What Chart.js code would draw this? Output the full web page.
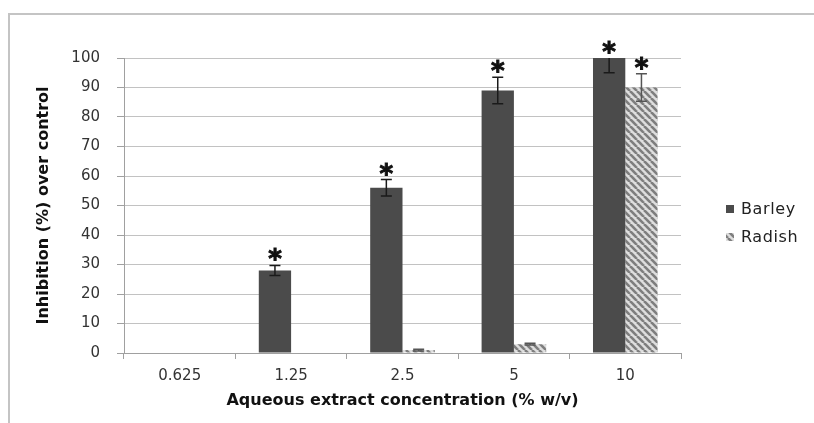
<!DOCTYPE html>
<html>
<head>
<meta charset="utf-8">
<script src="https://cdn.jsdelivr.net/npm/chart.js@4.4.0/dist/chart.umd.min.js"></script>
<style>
  html, body { margin: 0; padding: 0; background: #ffffff; overflow: hidden; width: 814px; height: 423px; }
  #frame { position: absolute; left: 8px; top: 13px; width: 820px; height: 420px;
           border-left: 2px solid #c4c4c4; border-top: 2px solid #c4c4c4; }
  #c { position: absolute; left: 0; top: 0; }
</style>
</head>
<body>
<div id="frame"></div>
<canvas id="c" width="814" height="423"></canvas>
<script>
const categories = ['0.625', '1.25', '2.5', '5', '10'];
const seriesNames = ['Barley', 'Radish'];
const barley = [0, 28, 56, 89, 100];
const barleyErr = [0, 1.7, 2.8, 4.5, 5];
const barleySig = [false, true, true, true, true];
const radish = [0, 0, 1, 3, 90];
const radishErr = [0, 0, 0.3, 0.3, 4.7];
const radishSig = [false, false, false, false, true];
const yMin = 0, yMax = 100, yStep = 10;
const xTitle = 'Aqueous extract concentration (% w/v)';
const yTitle = 'Inhibition (%) over control';

function makeStripe() {
  const p = document.createElement('canvas');
  p.width = 7; p.height = 7;
  const g = p.getContext('2d');
  g.fillStyle = '#dedede';
  g.fillRect(0, 0, 7, 7);
  g.strokeStyle = '#7e7e7e';
  g.lineWidth = 2.6;
  for (let k = -7; k <= 14; k += 7) {
    g.beginPath();
    g.moveTo(k, 0);
    g.lineTo(k + 7, 7);
    g.stroke();
  }
  return g.createPattern(p, 'repeat');
}
const stripe = makeStripe();

const errs = [barleyErr, radishErr];
const sigs = [barleySig, radishSig];

const errorPlugin = {
  id: 'errors',
  afterDatasetsDraw(chart) {
    const ctx = chart.ctx;
    const y = chart.scales.y;
    const area = chart.chartArea;
    chart.data.datasets.forEach((ds, di) => {
      const meta = chart.getDatasetMeta(di);
      meta.data.forEach((bar, i) => {
        const v = ds.data[i];
        const e = errs[di][i];
        if (e > 0) {
          const top = y.getPixelForValue(v + e);
          const bot = y.getPixelForValue(v - e);
          ctx.save();
          ctx.beginPath();
          ctx.rect(area.left, area.top, area.right - area.left, area.bottom - area.top);
          ctx.clip();
          ctx.strokeStyle = di === 0 ? '#1a1a1a' : '#555555';
          ctx.lineWidth = 1.5;
          ctx.beginPath();
          ctx.moveTo(bar.x, top); ctx.lineTo(bar.x, bot);
          ctx.moveTo(bar.x - 5.5, top); ctx.lineTo(bar.x + 5.5, top);
          ctx.moveTo(bar.x - 5.5, bot); ctx.lineTo(bar.x + 5.5, bot);
          ctx.stroke();
          ctx.restore();
        }
        if (sigs[di][i]) {
          const topVal = Math.min(v + e, yMax);
          const cy = y.getPixelForValue(topVal) - 12;
          ctx.save();
          ctx.fillStyle = '#111111';
          ctx.strokeStyle = '#111111';
          ctx.lineWidth = 1;
          ctx.font = 'bold 26px "DejaVu Sans"';
          ctx.textAlign = 'center';
          ctx.textBaseline = 'alphabetic';
          ctx.fillText('*', bar.x, cy + 15);
          ctx.strokeText('*', bar.x, cy + 15);
          ctx.restore();
        }
      });
    });
  }
};

const legendPlugin = {
  id: 'customLegend',
  afterDraw(chart) {
    const ctx = chart.ctx;
    ctx.save();
    chart.data.datasets.forEach((ds, di) => {
      const cy = 209 + di * 28;
      ctx.fillStyle = ds.backgroundColor;
      ctx.fillRect(726, cy - 4, 8, 8);
      ctx.fillStyle = '#222222';
      ctx.font = '16px "DejaVu Sans"';
      ctx.letterSpacing = '0.6px';
      ctx.textAlign = 'left';
      ctx.textBaseline = 'middle';
      ctx.fillText(ds.label, 741, cy + 1);
    });
    ctx.restore();
  }
};

new Chart(document.getElementById('c'), {
  type: 'bar',
  data: {
    labels: categories,
    datasets: [
      { label: seriesNames[0], data: barley, backgroundColor: '#4b4b4b',
        categoryPercentage: 0.58, barPercentage: 1.0 },
      { label: seriesNames[1], data: radish, backgroundColor: stripe,
        categoryPercentage: 0.58, barPercentage: 1.0 }
    ]
  },
  options: {
    responsive: false,
    animation: false,
    layout: { padding: { top: 58, right: 133, bottom: 0, left: 0 } },
    plugins: { legend: { display: false }, tooltip: { enabled: false } },
    scales: {
      x: {
        afterFit(s) { s.height = 70; },
        grid: { drawOnChartArea: false, drawTicks: true, tickLength: 6, color: '#a0a0a0' },
        border: { color: '#a0a0a0', width: 1 },
        ticks: { color: '#333333', font: { family: 'DejaVu Sans', size: 15 }, padding: 8 },
        title: { display: true, text: xTitle, color: '#111111',
                 font: { family: 'DejaVu Sans', size: 16, weight: 'bold' },
                 padding: { top: 0, bottom: 13 } }
      },
      y: {
        min: yMin, max: yMax,
        afterFit(s) { s.width = 124; },
        grid: { color: '#c2c2c2', tickLength: 7, tickColor: '#a0a0a0' },
        border: { color: '#a0a0a0', width: 1 },
        ticks: { stepSize: yStep, color: '#333333', font: { family: 'DejaVu Sans', size: 15 }, padding: 17 },
        title: { display: true, text: yTitle, color: '#111111',
                 font: { family: 'DejaVu Sans', size: 16, weight: 'bold' },
                 padding: { top: 34, bottom: 0 } }
      }
    }
  },
  plugins: [errorPlugin, legendPlugin]
});
</script>
</body>
</html>
